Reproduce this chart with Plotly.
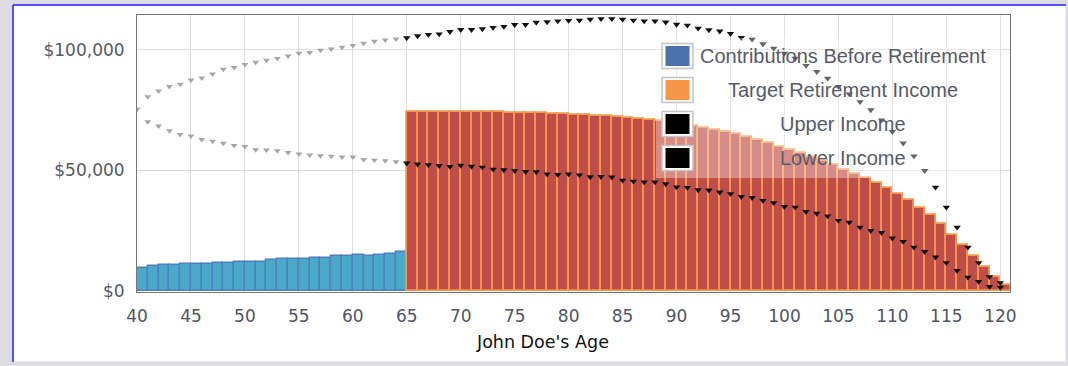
import plotly.graph_objects as go

# ---------------- data ----------------
ages_pre = list(range(40, 65))
ages_post = list(range(65, 121))

contributions = [9700, 10500, 10800, 10900, 11000, 11000, 11300, 11600, 11600, 12000,
                 12200, 12200, 12900, 13100, 13400, 13400, 13700, 13700, 14400, 14700,
                 14900, 14700, 14900, 15200, 16300]

target_income = [74400, 74400, 74400, 74400, 74300, 74300, 74200, 74200, 74100, 74000,
                 74000, 73900, 73800, 73600, 73400, 73200, 73000, 72700, 72400, 72000,
                 71600, 71300, 70900, 70400, 69800, 69100, 68400, 67700, 66900, 66000,
                 65000, 63700, 62500, 61300, 59900, 58600, 57100, 55700, 54000, 52300,
                 50400, 48700, 46800, 44800, 42600, 40300, 37700, 34600, 31500, 28000,
                 23400, 19100, 14600, 9900, 5900, 2500]

upper_pre = [75400, 80600, 83000, 84800, 85800, 87500, 88400, 90000, 92000, 92700,
             94000, 94900, 95700, 96500, 97500, 98600, 98900, 99900, 100400, 101100,
             101800, 102800, 103600, 104100, 104500]
lower_pre = [75400, 70200, 68500, 66500, 64900, 64300, 62900, 62100, 61300, 60400,
             59900, 58600, 58500, 58200, 57500, 56800, 56400, 56100, 55900, 55600,
             55600, 54600, 54200, 54000, 53600]

upper_post = [105000, 105800, 106400, 106600, 107600, 108400, 108400, 108700, 109300, 109700,
              110500, 110500, 111400, 111600, 112000, 112200, 112300, 112700, 112900, 112900,
              112700, 112300, 112000, 112000, 111500, 110600, 110200, 109000, 108300, 107800,
              106800, 105100, 104400, 102500, 100700, 98600, 96500, 93500, 91000, 88200,
              84800, 81700, 78500, 75100, 70900, 66100, 61300, 56000, 49900, 43000,
              34700, 26400, 18100, 11700, 5900, 3400]
lower_post = [53000, 52600, 52300, 52000, 51600, 52100, 51700, 51300, 50500, 50200,
              49900, 49500, 49400, 48500, 48300, 48500, 48100, 47300, 47400, 47200,
              45900, 45500, 45200, 45200, 44400, 43100, 42900, 41900, 41800, 41000,
              40300, 39100, 38700, 37500, 36600, 35000, 34700, 32900, 32200, 31100,
              29200, 28500, 26400, 25000, 24200, 21900, 20500, 18100, 16300, 14000,
              11700, 8400, 5700, 3900, 1800, 1500]

legend_labels = ["Contributions Before Retirement", "Target Retirement Income",
                 "Upper Income", "Lower Income"]
legend_colors = ["#4a72aa", "#f79646", "#000000", "#000000"]
x_title = "John Doe's Age"

# ---------------- figure ----------------
fig = go.Figure()

fig.add_trace(go.Bar(x=ages_pre, y=contributions, offset=0, width=1,
                     marker=dict(color="#4aa9c8", line=dict(color="#4f7fbf", width=1.4)),
                     name=legend_labels[0], showlegend=False))
fig.add_trace(go.Bar(x=ages_post, y=target_income, offset=0, width=1,
                     marker=dict(color="#bf4e4a", line=dict(color="#f79646", width=1.8)),
                     name=legend_labels[1], showlegend=False))

mk_gray = dict(symbol="triangle-down", size=6, color="#a6a6a6")
mk_black = dict(symbol="triangle-down", size=6.5, color="#111111")
fig.add_trace(go.Scatter(x=ages_pre, y=upper_pre, mode="markers", marker=mk_gray, showlegend=False))
fig.add_trace(go.Scatter(x=ages_pre, y=lower_pre, mode="markers", marker=mk_gray, showlegend=False))
fig.add_trace(go.Scatter(x=ages_post, y=upper_post, mode="markers", marker=mk_black,
                         name=legend_labels[2], showlegend=False))
fig.add_trace(go.Scatter(x=ages_post, y=lower_post, mode="markers", marker=mk_black,
                         name=legend_labels[3], showlegend=False))

# geometry helpers (plot area in px)
L, R, T, B = 137, 1010, 15, 292
def px(x):
    return (x - L) / (R - L)
def py(y):
    return (B - y) / (B - T)

shapes = []
# white panel with blue frame
shapes.append(dict(type="rect", xref="paper", yref="paper", x0=px(13), x1=px(1066),
                   y0=py(362), y1=py(5), fillcolor="white", line=dict(color="#d6dceb", width=1),
                   layer="below"))
shapes.append(dict(type="line", xref="paper", yref="paper", x0=px(13), x1=px(1066),
                   y0=py(5), y1=py(5), line=dict(color="#2222ff", width=1.5)))
shapes.append(dict(type="line", xref="paper", yref="paper", x0=px(13), x1=px(13),
                   y0=py(5), y1=py(362), line=dict(color="#2222ff", width=1.5)))
# legend background
shapes.append(dict(type="rect", xref="paper", yref="paper", x0=px(656), x1=px(1000),
                   y0=py(178), y1=py(38), fillcolor="rgba(255,255,255,0.35)",
                   line=dict(width=0), layer="above"))
annotations = []
row_y = [56, 90, 124, 158]
for lab, col, ry in zip(legend_labels, legend_colors, row_y):
    shapes.append(dict(type="rect", xref="paper", yref="paper", x0=px(662), x1=px(693),
                       y0=py(ry + 12.5), y1=py(ry - 12.5), fillcolor="#ffffff",
                       line=dict(color="#c4c4c4", width=1.5), layer="above"))
    shapes.append(dict(type="rect", xref="paper", yref="paper", x0=px(665.5), x1=px(689.5),
                       y0=py(ry + 10), y1=py(ry - 10), fillcolor=col,
                       line=dict(width=0), layer="above"))
    annotations.append(dict(text=lab, xref="paper", yref="paper", x=px(843), y=py(ry),
                            xanchor="center", yanchor="middle", showarrow=False,
                            font=dict(family="Liberation Sans", size=20, color="#555b68")))

# x axis title (centred on the panel, as in the reference)
annotations.append(dict(text=x_title, xref="paper", yref="paper", x=px(542), y=py(342),
                        xanchor="center", yanchor="middle", showarrow=False,
                        font=dict(family="DejaVu Sans", size=17.5, color="#111111")))

fig.update_layout(
    width=1068, height=366,
    margin=dict(l=L, r=1068 - R, t=T, b=366 - B),
    paper_bgcolor="#dcdce2",
    plot_bgcolor="white",
    barmode="overlay",
    bargap=0,
    showlegend=False,
    shapes=shapes,
    annotations=annotations,
    xaxis=dict(range=[40, 120.9], tick0=40, dtick=5, showgrid=True, gridcolor="#dedede",
               gridwidth=1, zeroline=False, showline=True, mirror=True, linecolor="#777777",
               linewidth=1, ticks="", ticklabelstandoff=9,
               tickfont=dict(family="DejaVu Sans", size=17, color="#4e5566")),
    yaxis=dict(range=[-415, 114500], tickvals=[0, 50000, 100000],
               ticktext=["$0", "$50,000", "$100,000"], showgrid=True, gridcolor="#dedede",
               zeroline=False, showline=True, mirror=True, linecolor="#777777", linewidth=1,
               ticks="", ticklabelstandoff=8,
               tickfont=dict(family="DejaVu Sans", size=17, color="#555a66")),
    font=dict(family="DejaVu Sans"),
)

fig.write_html("out.html")
